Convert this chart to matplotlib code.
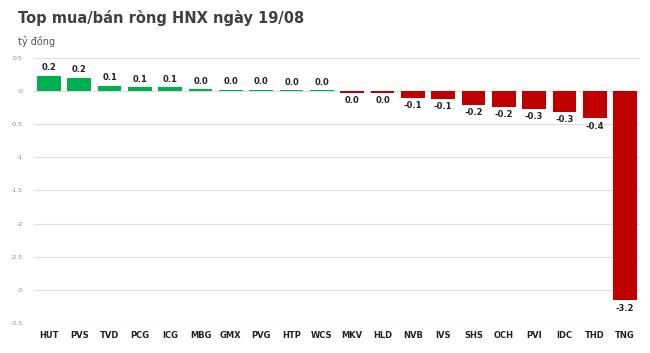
import matplotlib.pyplot as plt
import numpy as np

tickers = ['HUT', 'PVS', 'TVD', 'PCG', 'ICG', 'MBG', 'GMX', 'PVG', 'HTP', 'WCS',
           'MKV', 'HLD', 'NVB', 'IVS', 'SHS', 'OCH', 'PVI', 'IDC', 'THD', 'TNG']
values = [0.23, 0.20, 0.08, 0.06, 0.06, 0.03, 0.02, 0.02, 0.01, 0.01,
          -0.03, -0.03, -0.10, -0.12, -0.21, -0.24, -0.27, -0.31, -0.41, -3.16]

fig = plt.figure(figsize=(6.5, 3.53), dpi=100)
ax = fig.add_axes([0.052, 0.085, 0.933, 0.751])

x = np.arange(len(tickers))
colors = ['#00B050' if v >= 0 else '#C00000' for v in values]
ax.bar(x, values, width=0.78, color=colors, zorder=3)

for xi, v in zip(x, values):
    off = 0.05 if v >= 0 else -0.05
    label = f'{round(v, 1):.1f}'
    if label == '-0.0':
        label = '0.0'
    ax.text(xi, v + off, label, ha='center', va='bottom' if v >= 0 else 'top',
            fontsize=6, fontweight='bold', color='#222222')

ax.set_xlim(-0.5, len(tickers) - 0.5)
ax.set_ylim(-3.5, 0.5)
ax.set_yticks(np.arange(-3.5, 0.51, 0.5))
ax.set_yticklabels(['-3.5', '-3', '-2.5', '-2', '-1.5', '-1', '-0.5', '0', '0.5'])
ax.set_xticks(x)
ax.set_xticklabels(tickers, fontsize=6, fontweight='bold', color='#222222')
ax.tick_params(axis='y', labelsize=4.5, colors='#888888', length=0, pad=8)
ax.tick_params(axis='x', length=0, pad=6)
ax.grid(axis='y', color='#DDDDDD', linewidth=0.8, zorder=0)
for s in ax.spines.values():
    s.set_visible(False)

fig.text(0.028, 0.95, 'Top mua/bán ròng HNX ngày 19/08', fontsize=10.5, fontweight='bold',
         color='#404040', va='center')
fig.text(0.028, 0.882, 'tỷ đồng', fontsize=7, color='#555555', va='center')

fig.savefig('out.png', dpi=100)
